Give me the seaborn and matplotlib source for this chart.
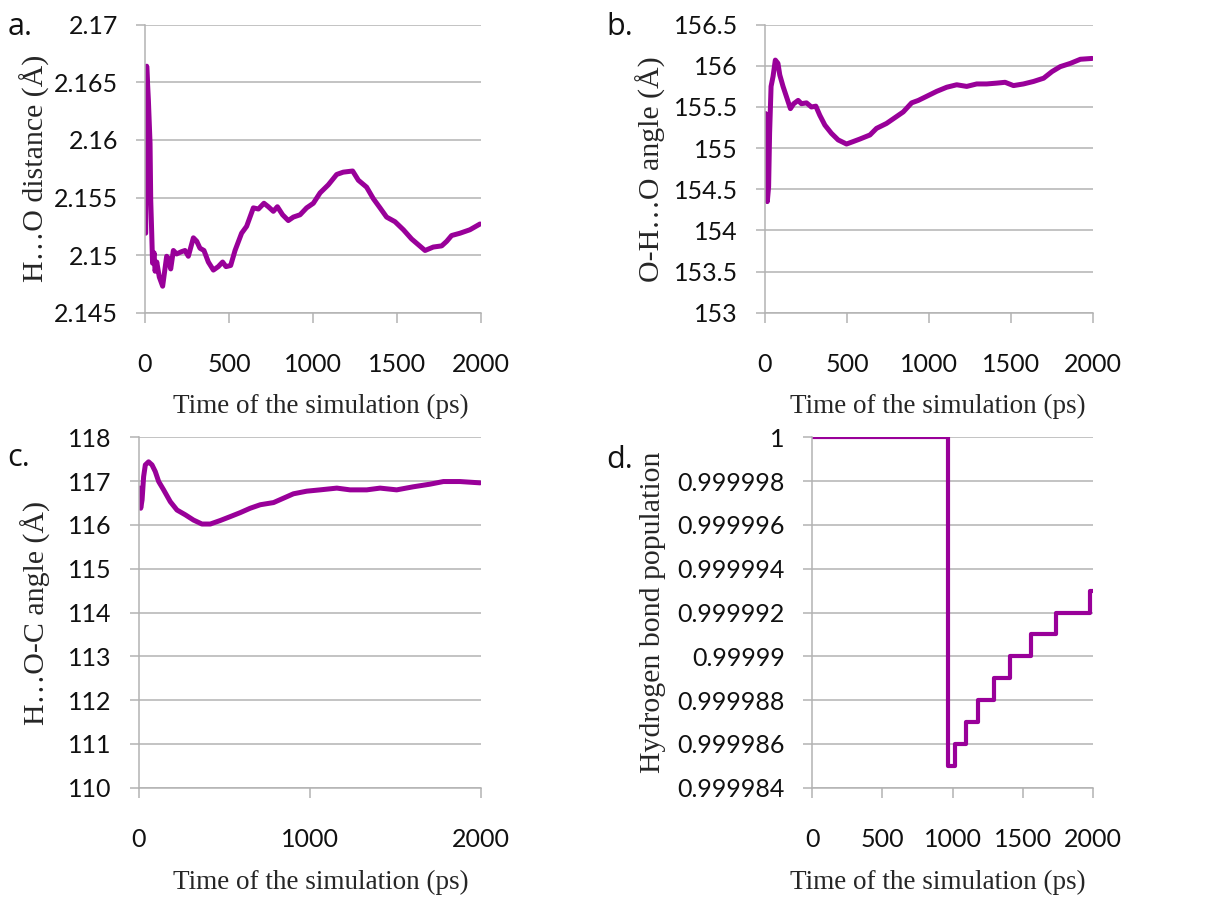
import numpy as np
import pandas as pd
import seaborn as sns
import matplotlib.pyplot as plt
from matplotlib.ticker import FuncFormatter

# panel a: H...O distance
t_a = [4, 10, 20, 30, 34, 40, 45, 54, 60, 70, 85, 105, 129, 139, 153, 169, 188, 218, 238, 258,
       288, 308, 327, 351, 377, 407, 436, 462, 482, 510, 536, 575, 605, 645, 675, 708, 734, 764,
       788, 819, 853, 883, 923, 962, 1002, 1042, 1091, 1141, 1180, 1236, 1270, 1319, 1359, 1399,
       1438, 1488, 1538, 1587, 1627, 1667, 1716, 1766, 1796, 1825, 1875, 1934, 1994]
d_a = [2.1519, 2.1664, 2.1635, 2.1597, 2.1548, 2.1519, 2.1493, 2.1502, 2.1486, 2.1494, 2.1481,
       2.1473, 2.1499, 2.1497, 2.1488, 2.1504, 2.1501, 2.1503, 2.1504, 2.1499, 2.1515, 2.1512,
       2.1506, 2.1504, 2.1494, 2.1487, 2.1490, 2.1494, 2.1490, 2.1491, 2.1504, 2.1519, 2.1525,
       2.1541, 2.1540, 2.1545, 2.1542, 2.1538, 2.1542, 2.1535, 2.1530, 2.1533, 2.1535, 2.1541,
       2.1545, 2.1554, 2.1561, 2.1570, 2.1572, 2.1573, 2.1565, 2.1559, 2.1549, 2.1541, 2.1533,
       2.1529, 2.1522, 2.1514, 2.1509, 2.1504, 2.1507, 2.1508, 2.1512, 2.1517, 2.1519, 2.1522,
       2.1527]

# panel b: O-H...O angle
t_b = [4, 8, 14, 22, 28, 37, 49, 63, 79, 90, 110, 130, 155, 175, 202, 222, 253, 283, 310, 334,
       365, 405, 446, 497, 538, 578, 640, 680, 741, 792, 843, 894, 935, 986, 1047, 1108, 1169,
       1230, 1291, 1352, 1413, 1464, 1515, 1576, 1637, 1699, 1750, 1800, 1862, 1923, 1994]
ang_b = [155.42, 154.53, 154.35, 154.53, 155.18, 155.75, 155.87, 156.07, 156.03, 155.89, 155.75,
         155.63, 155.48, 155.54, 155.58, 155.54, 155.55, 155.50, 155.51, 155.40, 155.28, 155.18,
         155.10, 155.05, 155.08, 155.11, 155.16, 155.24, 155.30, 155.37, 155.44, 155.55, 155.58,
         155.63, 155.69, 155.74, 155.77, 155.75, 155.78, 155.78, 155.79, 155.80, 155.76, 155.78,
         155.81, 155.85, 155.93, 155.99, 156.03, 156.08, 156.09]

# panel c: H...O-C angle
t_c = [4, 10, 18, 27, 37, 56, 76, 95, 115, 144, 183, 222, 271, 319, 368, 417, 475, 534, 592, 650,
       709, 787, 845, 903, 981, 1059, 1157, 1234, 1332, 1410, 1507, 1604, 1702, 1780, 1877, 1994]
ang_c = [116.84, 116.38, 116.57, 117.10, 117.37, 117.44, 117.37, 117.22, 116.99, 116.80, 116.53,
         116.34, 116.23, 116.11, 116.02, 116.02, 116.10, 116.19, 116.28, 116.38, 116.46, 116.51,
         116.61, 116.71, 116.77, 116.80, 116.84, 116.80, 116.80, 116.84, 116.80, 116.87, 116.93,
         116.99, 116.99, 116.96]

# panel d: hydrogen bond population (step)
t_d = [0, 971, 1019, 1095, 1180, 1292, 1406, 1558, 1738, 1981, 2000]
pop_d = [1.0, 0.999985, 0.999986, 0.999987, 0.999988, 0.999989, 0.999990, 0.999991, 0.999992,
         0.999993, 0.999993]

xlab = "Time of the simulation (ps)"
purple = "#990099"
grid_c = "#b3b3b3"

sns.set_style("white")
plt.rcParams['font.family'] = ['Lato', 'DejaVu Sans']

fig = plt.figure(figsize=(12.17, 8.98), dpi=100)
W, H = 1217, 898


def make_ax(l, r, t, b):
    return fig.add_axes([l / W, 1 - b / H, (r - l) / W, (b - t) / H])


ax_a = make_ax(145, 481, 24.7, 312.7)
ax_b = make_ax(765, 1093, 24.7, 312.7)
ax_c = make_ax(139, 481, 437.3, 787.7)
ax_d = make_ax(812, 1093, 437.3, 787.7)

lab_font = dict(family='Liberation Serif', size=19.5)
ylab_font = dict(family='Liberation Serif', size=21.5)


def style(ax, xticks, yticks, ylab, ylabx, xlabxy, fmt):
    ax.set_xlim(0, 2000)
    ax.set_ylim(yticks[0], yticks[-1])
    ax.set_xticks(xticks)
    ax.set_yticks(yticks)
    ax.yaxis.set_major_formatter(FuncFormatter(fmt))
    ax.grid(axis='y', color=grid_c, linewidth=1.1)
    ax.set_axisbelow(True)
    for s in ['top', 'right']:
        ax.spines[s].set_visible(False)
    for s in ['left', 'bottom']:
        ax.spines[s].set_color(grid_c)
        ax.spines[s].set_linewidth(1.1)
    ax.tick_params(axis='x', length=7.2, width=1.1, color=grid_c, pad=22, bottom=True,
                   labelsize=18, labelcolor='#111111')
    ax.tick_params(axis='y', length=6.5, width=1.1, color=grid_c, pad=13, left=True,
                   labelsize=18, labelcolor='#111111')
    ax.set_xlabel(xlab, **lab_font)
    ax.set_ylabel(ylab, **ylab_font)
    ax.xaxis.set_label_coords(*xlabxy)
    ax.yaxis.set_label_coords(ylabx, 0.5)


def gfmt(v, pos):
    return f"{v:.6f}".rstrip('0').rstrip('.')


sns.lineplot(x=t_a, y=d_a, ax=ax_a, color=purple, linewidth=3.6, sort=False)
sns.lineplot(x=t_b, y=ang_b, ax=ax_b, color=purple, linewidth=3.6, sort=False)
sns.lineplot(x=t_c, y=ang_c, ax=ax_c, color=purple, linewidth=3.6, sort=False)
sns.lineplot(x=t_d, y=pop_d, ax=ax_d, color=purple, linewidth=3.0, sort=False,
             drawstyle='steps-post')

style(ax_a, [0, 500, 1000, 1500, 2000], list(np.linspace(2.145, 2.17, 6)),
      "H…O distance (Å)", -0.283, (0.524, -0.282), gfmt)
style(ax_b, [0, 500, 1000, 1500, 2000], list(np.linspace(153, 156.5, 8)),
      "O-H…O angle (Å)", -0.302, (0.526, -0.282), gfmt)
style(ax_c, [0, 1000, 2000], list(range(110, 119)),
      "H…O-C angle (Å)", -0.257, (0.532, -0.235), gfmt)
style(ax_d, [0, 500, 1000, 1500, 2000], list(np.linspace(0.999984, 1.0, 9)),
      "Hydrogen bond population", -0.52, (0.447, -0.235), gfmt)

letter_font = dict(family='Open Sans', size=22, va='center', ha='left', color='#111111')
fig.text(8 / W, 1 - 27 / H, "a.", **letter_font)
fig.text(606 / W, 1 - 27 / H, "b.", **letter_font)
fig.text(7 / W, 1 - 458 / H, "c.", **letter_font)
fig.text(606 / W, 1 - 460 / H, "d.", **letter_font)

fig.savefig("out.png", dpi=100)
